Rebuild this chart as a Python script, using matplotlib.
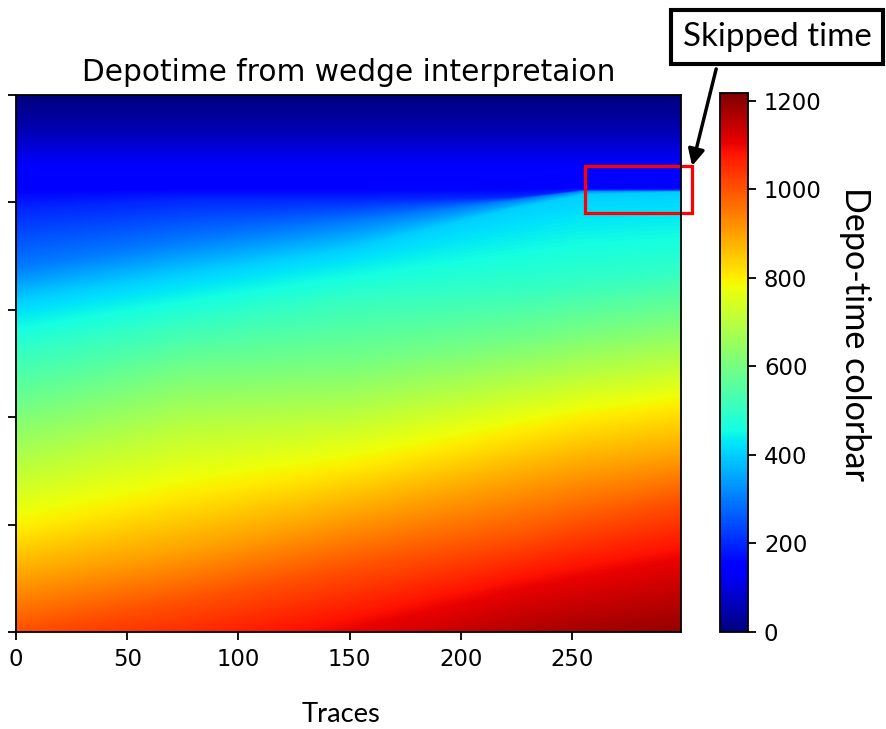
import numpy as np
import matplotlib
matplotlib.use('Agg')
import matplotlib.pyplot as plt
from matplotlib.patches import Rectangle

# depo-time levels and their picked depth (sample) at a few control traces
levels = [0, 50, 130, 150, 200, 300, 400, 500, 600, 700, 800, 900, 1000, 1100, 1200]
ctrl_traces = [0, 75, 150, 225, 255, 299]
depth_tr0 = [0, 60, 125, 173, 213, 320, 381, 474, 585, 690, 805, 900, 994, 1090, 1180]
depth_tr75 = [0, 60, 125, 173, 195, 272, 334, 422, 515, 618, 740, 850, 940, 1060, 1170]
depth_tr150 = [0, 60, 125, 173, 195, 235, 286, 377, 497, 595, 690, 785, 878, 992, 1130]
depth_tr225 = [0, 60, 125, 173, 190, 195, 210, 357, 459, 542, 625, 720, 823, 916, 1050]
depth_tr255 = [0, 60, 125, 173, 177, 177.5, 185, 345, 440, 522, 600, 697, 793, 892, 1030]
depth_tr299 = [0, 60, 125, 173, 177, 177.5, 180, 328, 416, 497, 576, 672, 755, 860, 1010]

n_traces = 300
n_samples = 1000
vmax = 1218
cbar_ticks = [0, 200, 400, 600, 800, 1000, 1200]
x_ticks = [0, 50, 100, 150, 200, 250]
y_ticks = [0, 200, 400, 600, 800, 1000]
skip_box = (256, 132, 48, 88)   # x, y, width, height in data units

depth_table = np.array([depth_tr0, depth_tr75, depth_tr150,
                        depth_tr225, depth_tr255, depth_tr299]).T
traces = np.arange(n_traces)
t = np.arange(n_samples + 1)

# depth of every level along all traces, then depo-time down each trace
level_depths = np.array([np.interp(traces, ctrl_traces, row) for row in depth_table])
depotime = np.zeros((len(t), n_traces))
for i in traces:
    depotime[:, i] = np.interp(t, level_depths[:, i], levels)

fig = plt.figure(figsize=(886 / 164, 729 / 164), dpi=164)
ax = fig.add_axes([16 / 886, 1 - 632 / 729, 665 / 886, 537 / 729])
cax = fig.add_axes([720 / 886, 1 - 632 / 729, 28 / 886, 539 / 729])

im = ax.imshow(depotime, cmap='jet', vmin=0, vmax=vmax, aspect='auto',
               extent=[0, n_traces - 1, n_samples, 0], interpolation='bilinear')
ax.set_xticks(x_ticks)
ax.set_yticks(y_ticks)
ax.tick_params(labelleft=False)
ax.set_title('Depotime from wedge interpretaion', fontsize=13)
ax.set_xlabel('Traces', fontsize=12, family='Lato')
ax.xaxis.set_label_coords(0.489, -0.13)

cb = fig.colorbar(im, cax=cax, ticks=cbar_ticks)
fig.text(855 / 886, 1 - 334 / 729, 'Depo-time colorbar', rotation=270,
         ha='center', va='center', fontsize=15, family='Lato')

ax.add_patch(Rectangle(skip_box[:2], skip_box[2], skip_box[3], fill=False,
                       edgecolor='red', lw=1.4, clip_on=False))
ax.annotate('Skipped time', xy=(skip_box[0] + skip_box[2], skip_box[1]),
            xycoords='data', xytext=(777 / 886, 1 - 37 / 729),
            textcoords='figure fraction', ha='center', va='center',
            fontsize=14.5, family='Lato', annotation_clip=False,
            bbox=dict(boxstyle='square,pad=0.35', fc='white', ec='black', lw=1.8),
            arrowprops=dict(arrowstyle='-|>', color='black', lw=1.5,
                            mutation_scale=15, relpos=(0.2, 0), shrinkB=0))

fig.savefig('out.png', dpi=164)
